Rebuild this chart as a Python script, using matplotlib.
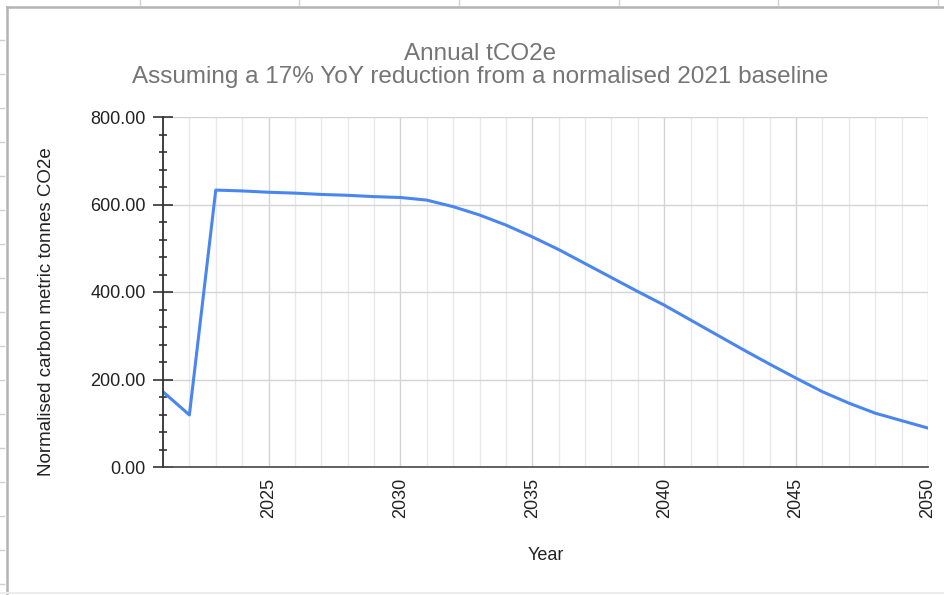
import matplotlib
matplotlib.use("Agg")
import matplotlib.pyplot as plt
from matplotlib.lines import Line2D
from matplotlib.ticker import MultipleLocator, FixedLocator

plt.rcParams['font.family'] = ['Liberation Sans', 'DejaVu Sans']

years = list(range(2021, 2051))
tco2e = [172, 119, 633, 631, 628, 626, 623, 621, 618, 616,
         610, 595, 576, 553, 526, 497, 465, 433, 401, 370,
         336, 302, 268, 235, 203, 172, 146, 123, 106, 89]
x_tick_labels = ["2025", "2030", "2035", "2040", "2045", "2050"]
y_ticks = [0, 200, 400, 600, 800]

title_line1 = "Annual tCO2e"
title_line2 = "Assuming a 17% YoY reduction from a normalised 2021 baseline"
xlabel = "Year"
ylabel = "Normalised carbon metric tonnes CO2e"

W, H = 945, 595
fig = plt.figure(figsize=(W / 100, H / 100), dpi=100)
fig.patch.set_facecolor("white")

# spreadsheet frame
fig.add_artist(Line2D([7 / W, 7 / W], [0, 1 - 7 / H], color="#b4b4b4", lw=1.8))
fig.add_artist(Line2D([7 / W, 1], [1 - 7 / H, 1 - 7 / H], color="#b4b4b4", lw=1.8))
fig.add_artist(Line2D([0, 1], [1 - 593 / H, 1 - 593 / H], color="#ececec", lw=1.5))
for yy in range(40, 590, 34):
    fig.add_artist(Line2D([0, 4 / W], [1 - yy / H, 1 - yy / H], color="#d0d0d0", lw=1))
for xx in [140, 299, 459, 619, 778, 938]:
    fig.add_artist(Line2D([xx / W, xx / W], [1 - 0 / H, 1 - 5 / H], color="#d0d0d0", lw=1))

left, right, top, bottom = 163, 928, 117, 467
ax = fig.add_axes([left / W, 1 - bottom / H, (right - left) / W, (bottom - top) / H])

ax.plot(years, tco2e, color="#4a86f0", lw=2.2, solid_joinstyle="round", zorder=5)

ax.set_xlim(2021, 2050)
ax.set_ylim(0, 800)

# gridlines
for yv in range(2021, 2051):
    major = (yv % 5 == 0)
    ax.axvline(yv, color="#d4d4d4" if major else "#e8e8e8", lw=1.0, zorder=0)
for v in y_ticks:
    ax.axhline(v, color="#d4d4d4", lw=1.0, zorder=0)

ax.xaxis.set_major_locator(FixedLocator([int(s) for s in x_tick_labels]))
ax.set_xticklabels(x_tick_labels, rotation=90, fontsize=13, color="#222222")
ax.tick_params(axis="x", length=0, pad=8)

ax.set_yticks(y_ticks)
ax.set_yticklabels([f"{v:.2f}" for v in y_ticks], fontsize=13, color="#222222")
ax.yaxis.set_minor_locator(MultipleLocator(40))
ax.tick_params(axis="y", which="major", direction="inout", length=15, width=1.2, color="#333333", pad=5)
ax.tick_params(axis="y", which="minor", direction="inout", length=6, width=1.2, color="#333333")

for s in ["top", "right"]:
    ax.spines[s].set_visible(False)
ax.spines["left"].set_color("#333333")
ax.spines["left"].set_linewidth(1.3)
ax.spines["bottom"].set_color("#555555")
ax.spines["bottom"].set_linewidth(1.3)
ax.spines["left"].set_zorder(6)

ax.set_xlabel(xlabel, fontsize=13, color="#222222")
ax.xaxis.set_label_coords(0.5, -0.228)
ax.set_ylabel(ylabel, fontsize=13.5, color="#222222")
ax.yaxis.set_label_coords(-0.141, 0.443)

cx = 480 / W
fig.text(cx, 1 - 60 / H, title_line1, ha="center", va="baseline", fontsize=17.5, color="#757575")
fig.text(cx, 1 - 83 / H, title_line2, ha="center", va="baseline", fontsize=17.5, color="#757575")

fig.savefig("out.png", dpi=100, facecolor="white")
